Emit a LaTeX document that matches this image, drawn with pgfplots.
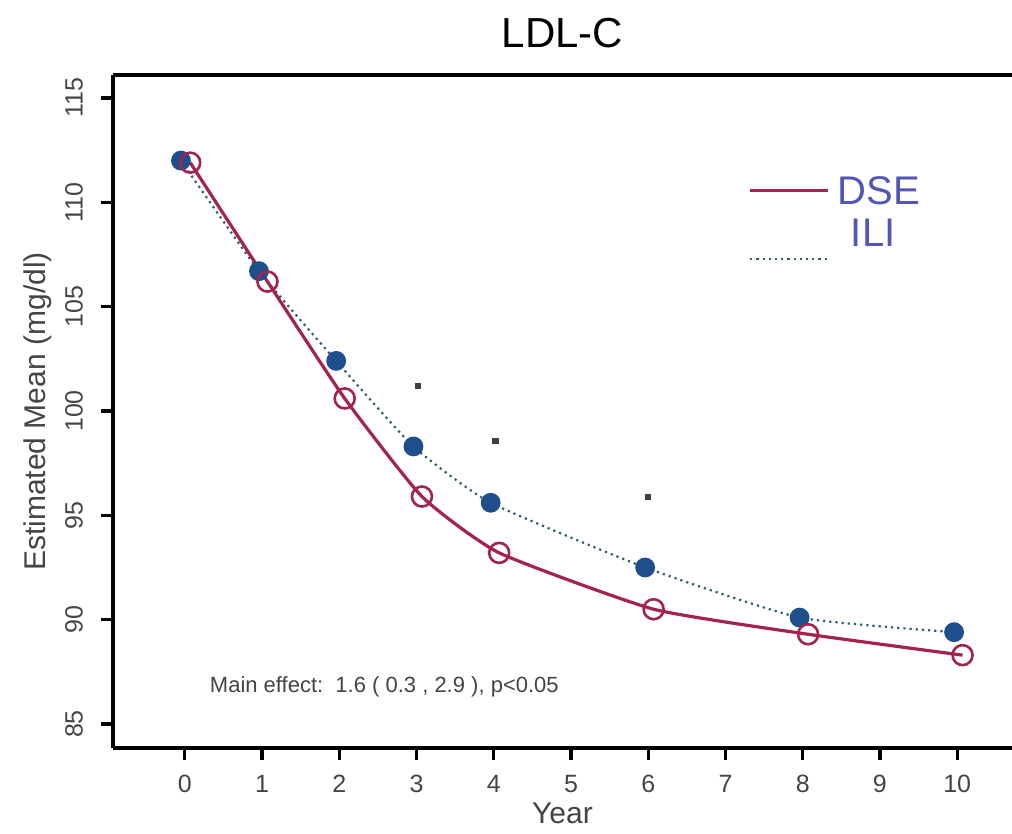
\documentclass[border=0pt]{standalone}
\usepackage{pgfplots}
\pgfplotsset{compat=1.18}
\usepackage{fontspec}
\setmainfont{Liberation Sans}

\definecolor{dsecol}{HTML}{A3234F}
\definecolor{ilicol}{HTML}{1F4E8C}
\definecolor{ililine}{HTML}{2E5F6A}
\definecolor{legtext}{HTML}{5555B5}
\definecolor{ticktext}{HTML}{444444}

\begin{document}
\begin{tikzpicture}
\begin{axis}[
  scale only axis,
  width=449.5pt, height=336.5pt,
  xmin=-0.93, xmax=10.71,
  ymin=83.85, ymax=116.1,
  axis x line*=box, axis y line*=left,
  axis line style={line width=2pt, black},
  xtick={0,...,10}, ytick={85,90,...,115},
  xtick pos=bottom, ytick pos=left,
  tick align=outside, major tick length=6pt,
  every tick/.style={line width=1.6pt, black},
  /pgf/number format/assume math mode=true,
  ticklabel style={font=\fontsize{12.5}{14}\selectfont, text=ticktext},
  xticklabel shift=4pt,
  yticklabel shift=5.5pt,
  yticklabel style={rotate=90, anchor=south},
  xlabel={Year}, ylabel={Estimated Mean (mg/dl)},
  label style={font=\fontsize{15}{17}\selectfont, text=ticktext},
  xlabel style={yshift=2pt},
  title={LDL-C},
  title style={font=\fontsize{21}{24}\selectfont, yshift=4pt},
  clip=false,
]
% ILI estimates (filled dots, dotted curve)
\addplot[ililine, line width=1.1pt, dotted, smooth, tension=0.3,
  mark=*, mark size=4.4pt,
  mark options={solid, fill=ilicol, draw=ilicol}]
  coordinates {(-0.05,112.0) (0.96,106.7) (1.96,102.4) (2.96,98.3)
               (3.96,95.6) (5.96,92.5) (7.96,90.1) (9.96,89.4)};
% DSE estimates (open circles, solid curve)
\addplot[dsecol, line width=1.6pt, smooth, tension=0.3,
  mark=o, mark size=5pt,
  mark options={solid, fill=white, line width=1.3pt}]
  coordinates {(0.07,111.9) (1.07,106.2) (2.07,100.6) (3.07,95.9)
               (4.07,93.2) (6.07,90.5) (8.07,89.3) (10.07,88.3)};
% significance markers
\addplot[only marks, mark=square*, mark size=1.3pt, color=black!75]
  coordinates {(3.02,101.2) (4.02,98.55) (6.0,95.87)};
% legend
\draw[dsecol, line width=1.6pt] (axis cs:7.32,110.57) -- (axis cs:8.33,110.57);
\node[anchor=west, text=legtext, font=\fontsize{20}{22}\selectfont, inner sep=0pt]
  at (axis cs:8.45,110.57) {DSE};
\node[anchor=west, text=legtext, font=\fontsize{20}{22}\selectfont, inner sep=0pt]
  at (axis cs:8.62,108.56) {ILI};
\draw[ililine, line width=1.1pt, dotted] (axis cs:7.32,107.3) -- (axis cs:8.33,107.3);
% annotation
\node[anchor=west, text=ticktext, font=\fontsize{11}{13}\selectfont, inner sep=0pt]
  at (axis cs:0.32,86.8) {Main effect:\ \ 1.6 ( 0.3 , 2.9 ), p<0.05};
\end{axis}
\pgfresetboundingbox
\path[use as bounding box] (-56.5pt,-43pt) rectangle (449.5pt,374pt);
\end{tikzpicture}
\end{document}
